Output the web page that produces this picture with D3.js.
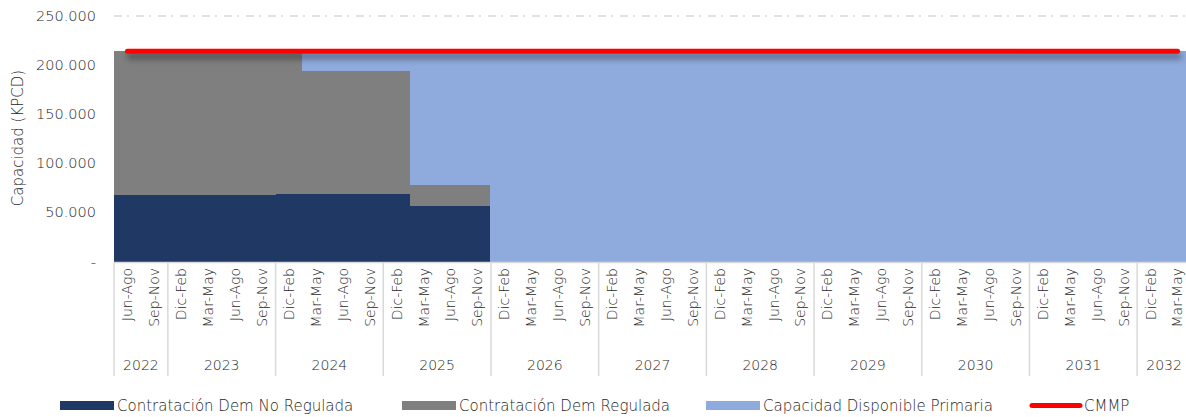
<!DOCTYPE html>
<html lang="es">
  <head>
    <meta charset="utf-8">
    <script src="https://cdnjs.cloudflare.com/ajax/libs/d3/7.8.5/d3.min.js"></script>
    <style>
      body { margin: 0; background: #fff; }
      text {
        font-family: "DejaVu Sans", sans-serif;
        font-weight: 200;
        fill: #262626;
      }
      .grid line {
        stroke: #d9d9d9;
        stroke-width: 1.5;
        stroke-dasharray: 8,5,2,7;
      }
      .xaxis line {
        stroke: #d9d9d9;
        stroke-width: 1.5;
      }
      .bands rect {
        shape-rendering: crispEdges;
      }
    </style>
  </head>

  <body>

  <script>
  // periodos trimestrales y años del eje x
  var periods = [
    'Jun-Ago', 'Sep-Nov',
    'Dic-Feb', 'Mar-May', 'Jun-Ago', 'Sep-Nov',
    'Dic-Feb', 'Mar-May', 'Jun-Ago', 'Sep-Nov',
    'Dic-Feb', 'Mar-May', 'Jun-Ago', 'Sep-Nov',
    'Dic-Feb', 'Mar-May', 'Jun-Ago', 'Sep-Nov',
    'Dic-Feb', 'Mar-May', 'Jun-Ago', 'Sep-Nov',
    'Dic-Feb', 'Mar-May', 'Jun-Ago', 'Sep-Nov',
    'Dic-Feb', 'Mar-May', 'Jun-Ago', 'Sep-Nov',
    'Dic-Feb', 'Mar-May', 'Jun-Ago', 'Sep-Nov',
    'Dic-Feb', 'Mar-May', 'Jun-Ago', 'Sep-Nov',
    'Dic-Feb', 'Mar-May'
  ];
  var years = ['2022', '2023', '2024', '2025', '2026', '2027', '2028', '2029', '2030', '2031', '2032'];
  var periodsPerYear = [2, 4, 4, 4, 4, 4, 4, 4, 4, 4, 2];

  var noRegulada = [
    68000, 68000, 68000, 68000, 68000, 68000, 68500, 68500, 68500, 68500,
    68500, 57000, 57000, 57000, 0, 0, 0, 0, 0, 0,
    0, 0, 0, 0, 0, 0, 0, 0, 0, 0,
    0, 0, 0, 0, 0, 0, 0, 0, 0, 0
  ];
  var regulada = [
    146000, 146000, 146000, 146000, 146000, 146000, 145500, 125500, 125500, 125500,
    125500, 20500, 20500, 20500, 0, 0, 0, 0, 0, 0,
    0, 0, 0, 0, 0, 0, 0, 0, 0, 0,
    0, 0, 0, 0, 0, 0, 0, 0, 0, 0
  ];
  var disponible = [
    0, 0, 0, 0, 0, 0, 0, 20000, 20000, 20000,
    20000, 136500, 136500, 136500, 214000, 214000, 214000, 214000, 214000, 214000,
    214000, 214000, 214000, 214000, 214000, 214000, 214000, 214000, 214000, 214000,
    214000, 214000, 214000, 214000, 214000, 214000, 214000, 214000, 214000, 214000
  ];
  var cmmp = [
    214000, 214000, 214000, 214000, 214000, 214000, 214000, 214000, 214000, 214000,
    214000, 214000, 214000, 214000, 214000, 214000, 214000, 214000, 214000, 214000,
    214000, 214000, 214000, 214000, 214000, 214000, 214000, 214000, 214000, 214000,
    214000, 214000, 214000, 214000, 214000, 214000, 214000, 214000, 214000, 214000
  ];
  var yTicks = [0, 50000, 100000, 150000, 200000, 250000];

  var seriesNames = ['Contratación Dem No Regulada', 'Contratación Dem Regulada', 'Capacidad Disponible Primaria'];
  var seriesColors = ['#203864', '#7f7f7f', '#8faadc'];

  var width = 1186,
      height = 417;

  var svg = d3.select('body')
    .append('svg')
    .attr('width', width)
    .attr('height', height);

  var defs = svg.append('defs');
  defs.append('filter')
      .attr('id', 'shadow')
      .attr('filterUnits', 'userSpaceOnUse')
      .attr('x', 0).attr('y', 0)
      .attr('width', width).attr('height', 120)
    .append('feDropShadow')
      .attr('dx', 2)
      .attr('dy', 5)
      .attr('stdDeviation', 3)
      .attr('flood-color', '#000')
      .attr('flood-opacity', 0.45);

  var x = d3.scaleBand()
    .domain(d3.range(periods.length))
    .range([114, 1191])
    .padding(0);

  var y = d3.scaleLinear()
    .domain([0, 250000])
    .range([261.5, 16]);

  var fmt = function (v) {
    return v === 0 ? '-' : d3.format(',')(v).replace(/,/g, '.');
  };

  // grid
  svg.append('g')
    .attr('class', 'grid')
    .selectAll('line')
    .data(yTicks.filter(d => d > 0))
    .enter().append('line')
      .attr('x1', 114)
      .attr('x2', width)
      .attr('y1', d => y(d))
      .attr('y2', d => y(d));

  // y tick labels
  svg.append('g')
    .selectAll('text')
    .data(yTicks)
    .enter().append('text')
      .attr('x', 96)
      .attr('y', d => y(d))
      .attr('dy', '0.35em')
      .attr('text-anchor', 'end')
      .style('font-size', '14.5px')
      .text(fmt);

  svg.append('text')
    .attr('transform', 'translate(18,138) rotate(-90)')
    .attr('text-anchor', 'middle')
    .attr('dy', '0.35em')
    .style('font-size', '15px')
    .text('Capacidad (KPCD)');

  // stacked bands
  var rows = periods.map((p, i) => ({ a: noRegulada[i], b: regulada[i], c: disponible[i] }));
  var stack = d3.stack().keys(['a', 'b', 'c'])(rows);

  svg.append('g')
    .attr('class', 'bands')
    .selectAll('g')
    .data(stack)
    .enter().append('g')
      .attr('fill', (d, i) => seriesColors[i])
    .selectAll('rect')
    .data(d => d.map((v, i) => ({ v: v, i: i })))
    .enter().append('rect')
      .attr('x', d => Math.floor(x(d.i)))
      .attr('width', x.bandwidth() + 1)
      .attr('y', d => y(d.v[1]))
      .attr('height', d => y(d.v[0]) - y(d.v[1]));

  // CMMP line
  var line = d3.line()
    .x((d, i) => x(i) + x.bandwidth() / 2)
    .y(d => y(d));

  svg.append('path')
    .datum(cmmp)
    .attr('d', line)
    .attr('fill', 'none')
    .attr('stroke', '#ff0000')
    .attr('stroke-width', 5)
    .attr('stroke-linecap', 'round')
    .attr('filter', 'url(#shadow)');

  // x axis: periods and years
  var xaxis = svg.append('g').attr('class', 'xaxis');

  xaxis.append('line')
    .attr('x1', 114).attr('x2', width)
    .attr('y1', 262.5).attr('y2', 262.5);

  var bounds = [0];
  periodsPerYear.forEach(n => bounds.push(bounds[bounds.length - 1] + n));

  xaxis.selectAll('line.div')
    .data(bounds)
    .enter().append('line')
      .attr('class', 'div')
      .attr('x1', d => d < periods.length ? x(d) : x.range()[1])
      .attr('x2', d => d < periods.length ? x(d) : x.range()[1])
      .attr('y1', 262)
      .attr('y2', 376);

  xaxis.selectAll('text.period')
    .data(periods)
    .enter().append('text')
      .attr('class', 'period')
      .attr('transform', (d, i) => 'translate(' + (x(i) + x.bandwidth() / 2) + ',268) rotate(-90)')
      .attr('text-anchor', 'end')
      .attr('dy', '0.35em')
      .style('font-size', '14px')
      .text(d => d);

  xaxis.selectAll('text.year')
    .data(years)
    .enter().append('text')
      .attr('class', 'year')
      .attr('x', (d, i) => {
        var x0 = x(bounds[i]);
        var x1 = bounds[i + 1] < periods.length ? x(bounds[i + 1]) : x.range()[1];
        return (x0 + x1) / 2;
      })
      .attr('y', 365)
      .attr('dy', '0.35em')
      .attr('text-anchor', 'middle')
      .style('font-size', '14px')
      .text(d => d);

  // legend
  var legendX = [60, 402, 706, 1029];
  var legend = svg.append('g');

  seriesNames.forEach((name, i) => {
    legend.append('rect')
      .attr('x', legendX[i])
      .attr('y', 401)
      .attr('width', 54)
      .attr('height', 9)
      .attr('fill', seriesColors[i]);
    legend.append('text')
      .attr('x', legendX[i] + 57)
      .attr('y', 406)
      .attr('dy', '0.35em')
      .style('font-size', '15px')
      .text(name);
  });

  legend.append('line')
    .attr('x1', legendX[3] + 3)
    .attr('x2', legendX[3] + 51)
    .attr('y1', 405.5)
    .attr('y2', 405.5)
    .attr('stroke', '#ff0000')
    .attr('stroke-width', 5)
    .attr('stroke-linecap', 'round');
  legend.append('text')
    .attr('x', legendX[3] + 55)
    .attr('y', 406)
    .attr('dy', '0.35em')
    .style('font-size', '15px')
    .text('CMMP');
  </script>
  </body>
</html>
